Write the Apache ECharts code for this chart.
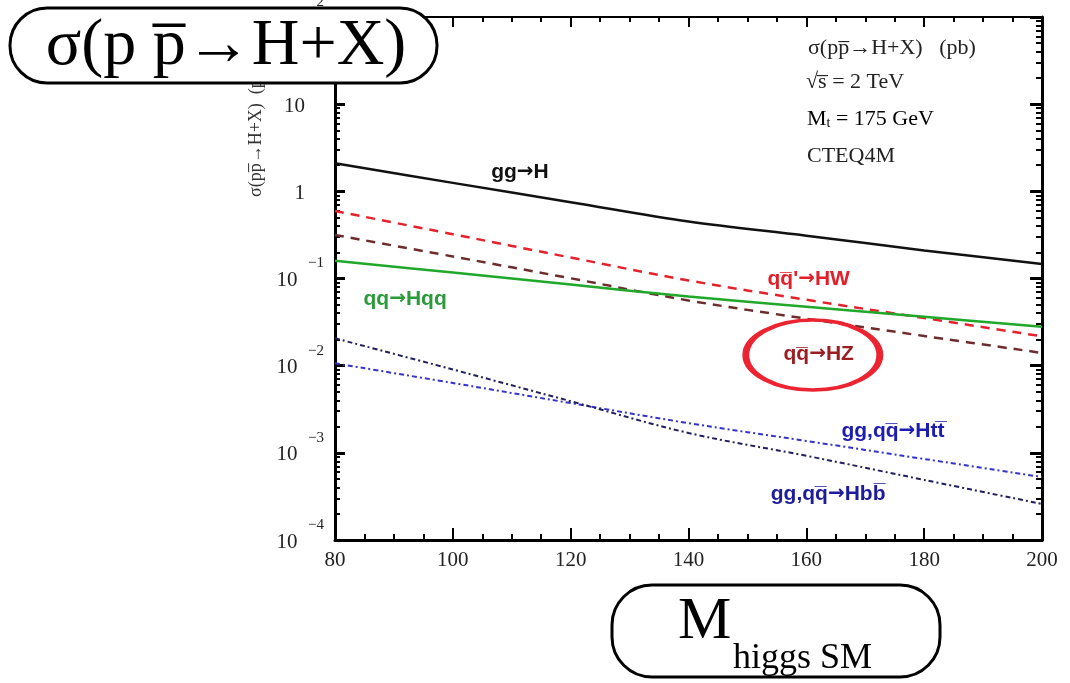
<!DOCTYPE html>
<html>
<head>
<meta charset="utf-8">
<script src="https://cdn.jsdelivr.net/npm/echarts@6/dist/echarts.min.js"></script>
<style>
  html, body { margin: 0; padding: 0; background: #fff; }
  #chart { width: 1070px; height: 683px; }
</style>
</head>
<body>
<div id="chart"></div>
<script>
// Higgs boson mass (GeV)
const masses = [80, 100, 120, 140, 160, 180, 200];

// Production cross sections at sqrt(s) = 2 TeV (pb)
const ggH   = [2.1, 1.25, 0.75, 0.45, 0.31, 0.21, 0.147];
const qqHW  = [0.595, 0.322, 0.174, 0.095, 0.057, 0.0352, 0.0217];
const qqHZ  = [0.316, 0.179, 0.1005, 0.056, 0.0346, 0.0219, 0.014];
const qqHqq = [0.160, 0.117, 0.0853, 0.062, 0.0475, 0.0364, 0.0279];
const ggHtt = [0.01064, 0.00633, 0.00372, 0.00219, 0.00137, 0.00085, 0.000528];
const ggHbb = [0.0206, 0.00904, 0.00391, 0.00169, 0.000925, 0.000489, 0.000259];

// Axis ticks
const xTicks = [80, 100, 120, 140, 160, 180, 200];
const yDecades = [1e-4, 1e-3, 1e-2, 1e-1, 1, 10, 100];

// Process labels and where they sit (mass, pb)
const processNames = {
  ggH: 'gg→H',
  qqHW: 'qq\u0305\'→HW',
  qqHZ: 'qq\u0305→HZ',
  qqHqq: 'qq→Hqq',
  ggHtt: 'gg,qq\u0305→Htt\u0305',
  ggHbb: 'gg,qq\u0305→Hbb\u0305'
};
const labelAnchors = {
  ggH: [111.4, 1.67],
  qqHW: [160.4, 0.0986],
  qqHZ: [162.1, 0.0136],
  qqHqq: [91.9, 0.0582],
  ggHtt: [174.7, 0.00178],
  ggHbb: [163.7, 0.000337]
};
const hzHighlight = [161.1, 0.01327];

// Minor log ticks 2..9 inside each decade
const yMinor = [];
for (let i = 0; i < yDecades.length - 1; i++) {
  for (let k = 2; k <= 9; k++) yMinor.push(k * yDecades[i]);
}

const serif = '"Liberation Serif", "DejaVu Serif", serif';
const sans = '"Liberation Sans", "DejaVu Sans", sans-serif';

function curve(key, values, color, lineType, width, labelColor, extraMarks) {
  const rich = {
    t: { color: labelColor, fontFamily: sans, fontWeight: 'bold', fontSize: 21 },
    a: { color: labelColor, fontFamily: '"DejaVu Sans", sans-serif', fontWeight: 'bold', fontSize: 20 }
  };
  const marks = [{
    coord: labelAnchors[key],
    symbolSize: 1,
    itemStyle: { color: 'rgba(0,0,0,0)' },
    label: {
      show: true, position: 'inside',
      formatter: '{t|' + processNames[key].replace('→', '}{a|→}{t|') + '}',
      rich: rich
    }
  }].concat(extraMarks || []);
  return {
    type: 'line',
    name: processNames[key],
    xAxisIndex: 0,
    yAxisIndex: 0,
    data: masses.map((m, i) => [m, values[i]]),
    smooth: 0.35,
    showSymbol: false,
    symbol: 'none',
    lineStyle: { color: color, width: width, type: lineType },
    markPoint: { silent: true, symbol: 'circle', animation: false, data: marks }
  };
}

// "10" with the exponent on a raised line above its right end;
// plain 1 and 10 keep the same block shape with hidden spacers
function yLabel(v) {
  const e = Math.round(Math.log10(v));
  if (e === 0) return '{h|−1}\n{b|1}{h|\u2009−1}';
  if (e === 1) return '{h|−1}\n{b|10}{h|\u2009−1}';
  return '{e|' + (e < 0 ? '−' + (-e) : String(e)) + '}\n{b|10}{h|\u2002\u2009−1}';
}

const labelRich = {
  b: { fontFamily: serif, fontSize: 21, color: '#222', lineHeight: 30 },
  e: { fontFamily: serif, fontSize: 15, color: '#222', lineHeight: 4 },
  h: { fontFamily: serif, fontSize: 15, color: 'rgba(0,0,0,0)', lineHeight: 4 }
};

const logAxisBase = {
  type: 'log', logBase: 10, min: 1e-4, max: 100,
  splitLine: { show: false }, minorTick: { show: false }, minorSplitLine: { show: false }
};

const option = {
  animation: false,
  backgroundColor: '#fff',
  grid: { left: 335, right: 28, top: 17, bottom: 143, containLabel: false, outerBoundsMode: 'none' },
  xAxis: [
    {
      type: 'value', min: 80, max: 200, interval: 20, position: 'bottom',
      axisLine: { show: true, lineStyle: { color: '#000', width: 3 } },
      axisTick: { show: true, inside: true, length: 12, lineStyle: { color: '#000', width: 2 }, customValues: xTicks },
      minorTick: { show: true, splitNumber: 4, length: 6, lineStyle: { color: '#000', width: 2 } },
      axisLabel: { show: true, margin: 10, fontFamily: serif, fontSize: 21, color: '#222', customValues: xTicks },
      splitLine: { show: false }
    },
    {
      type: 'value', min: 80, max: 200, interval: 20, position: 'top',
      axisLine: { show: true, lineStyle: { color: '#000', width: 2 } },
      axisTick: { show: true, inside: true, length: 10, lineStyle: { color: '#000', width: 2 } },
      minorTick: { show: true, splitNumber: 4, length: 5, lineStyle: { color: '#000', width: 2 } },
      axisLabel: { show: false },
      splitLine: { show: false }
    }
  ],
  yAxis: [
    Object.assign({}, logAxisBase, {
      position: 'left',
      axisLine: { show: true, lineStyle: { color: '#000', width: 3 } },
      axisTick: { show: true, inside: true, length: 10, lineStyle: { color: '#000', width: 3 }, customValues: yDecades },
      axisLabel: { show: true, margin: 11, formatter: yLabel, rich: labelRich, customValues: yDecades }
    }),
    Object.assign({}, logAxisBase, {
      position: 'left',
      axisLine: { show: false },
      axisTick: { show: true, inside: true, length: 5, lineStyle: { color: '#000', width: 2 }, customValues: yMinor },
      axisLabel: { show: false }
    }),
    Object.assign({}, logAxisBase, {
      position: 'right',
      axisLine: { show: true, lineStyle: { color: '#000', width: 3 } },
      axisTick: { show: true, inside: true, length: 12, lineStyle: { color: '#000', width: 3 }, customValues: yDecades },
      axisLabel: { show: false }
    }),
    Object.assign({}, logAxisBase, {
      position: 'right',
      axisLine: { show: false },
      axisTick: { show: true, inside: true, length: 6, lineStyle: { color: '#000', width: 2 }, customValues: yMinor },
      axisLabel: { show: false }
    })
  ],
  series: [
    curve('ggH', ggH, '#111', 'solid', 2.5, '#111'),
    curve('qqHW', qqHW, '#e3222c', [9, 7], 2.5, '#e0202a'),
    curve('qqHZ', qqHZ, '#6e2c2c', [9, 7], 2.5, '#9b1e22', [{
      coord: hzHighlight,
      symbol: 'path://M0,50 A100,50 0 1,1 200,50 A100,50 0 1,1 0,50 Z',
      symbolSize: [134, 70],
      itemStyle: { color: 'rgba(0,0,0,0)', borderColor: '#ec2330', borderWidth: 5 },
      label: { show: false }
    }]),
    curve('qqHqq', qqHqq, '#1fa82a', 'solid', 2.5, '#2a9a3a'),
    curve('ggHtt', ggHtt, '#3434c8', [5, 3, 2, 3], 2, '#1c1cb0'),
    curve('ggHbb', ggHbb, '#20205c', [5, 3, 2, 3], 2, '#1c1c9c')
  ],
  graphic: [
    // vertical axis title
    {
      type: 'text', x: 256, y: 197, rotation: Math.PI / 2, z: 10,
      style: { text: 'σ(pp\u0305→H+X)  (pb)', fontFamily: serif, fontSize: 18, fill: '#333', align: 'left', verticalAlign: 'middle' }
    },
    // info block
    {
      type: 'text', x: 808, y: 48, z: 10,
      style: { text: 'σ(pp\u0305→H+X)   (pb)', fontFamily: serif, fontSize: 22, fill: '#222', align: 'left', verticalAlign: 'middle' }
    },
    {
      type: 'text', x: 806, y: 82, z: 10,
      style: { text: '√s\u0305 = 2 TeV', fontFamily: serif, fontSize: 22, fill: '#222', align: 'left', verticalAlign: 'middle' }
    },
    {
      type: 'text', x: 807, y: 119, z: 10,
      style: {
        text: '{a|M}{s|t}{a| = 175 GeV}', align: 'left', verticalAlign: 'middle',
        rich: {
          a: { fontFamily: serif, fontSize: 22, color: '#222', lineHeight: 22 },
          s: { fontFamily: serif, fontSize: 14, color: '#222', lineHeight: 10, padding: [15, 0, 0, 0], verticalAlign: 'bottom' }
        }
      }
    },
    {
      type: 'text', x: 807, y: 156, z: 10,
      style: { text: 'CTEQ4M', fontFamily: serif, fontSize: 22, fill: '#222', align: 'left', verticalAlign: 'middle' }
    },
    // boxed title
    {
      type: 'rect', z: 100,
      shape: { x: 10, y: 8, width: 427, height: 75, r: 37 },
      style: { fill: '#fff', stroke: '#000', lineWidth: 3 }
    },
    {
      type: 'text', x: 226, y: 47, z: 101,
      style: { text: 'σ(p p\u0305→H+X)', fontFamily: serif, fontSize: 66, fill: '#000', align: 'center', verticalAlign: 'middle' }
    },
    // boxed x-axis title
    {
      type: 'rect', z: 100,
      shape: { x: 612, y: 585, width: 328, height: 92, r: 40 },
      style: { fill: '#fff', stroke: '#000', lineWidth: 3 }
    },
    {
      type: 'text', x: 678, y: 622, z: 101,
      style: { text: 'M', fontFamily: serif, fontSize: 60, fill: '#000', align: 'left', verticalAlign: 'middle' }
    },
    {
      type: 'text', x: 733, y: 659, z: 101,
      style: { text: 'higgs SM', fontFamily: serif, fontSize: 36, fill: '#000', align: 'left', verticalAlign: 'middle' }
    }
  ]
};

const chart = echarts.init(document.getElementById('chart'), null, { renderer: 'canvas' });
chart.setOption(option);
</script>
</body>
</html>
